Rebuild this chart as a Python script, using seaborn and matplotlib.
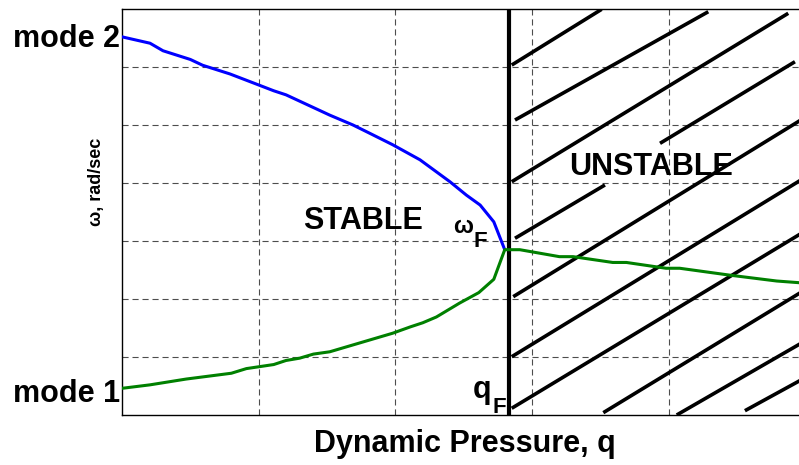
import matplotlib
matplotlib.use("Agg")
import matplotlib.pyplot as plt
import matplotlib.transforms as mtransforms
import seaborn as sns
import pandas as pd

# ---- data ----
q_mode2 = [0.00, 0.205, 0.30, 0.50, 0.59, 0.79, 1.00, 1.11, 1.20, 1.52, 1.69,
           1.81, 1.98, 2.18, 2.40, 2.52, 2.62, 2.72, 2.80]
w_mode2 = [6.52, 6.41, 6.28, 6.13, 6.03, 5.88, 5.69, 5.59, 5.52, 5.17, 5.00,
           4.86, 4.66, 4.40, 4.02, 3.79, 3.62, 3.33, 2.85]

q_mode1 = [0.00, 0.205, 0.47, 0.80, 0.91, 1.11, 1.20, 1.30, 1.40, 1.52, 1.98,
           2.11, 2.20, 2.30, 2.47, 2.61, 2.72, 2.80, 2.91, 3.20, 3.30, 3.59,
           3.69, 3.98, 4.08, 4.45, 4.79, 4.96]
w_mode1 = [0.46, 0.52, 0.62, 0.72, 0.80, 0.87, 0.94, 0.98, 1.05, 1.09, 1.41,
           1.52, 1.59, 1.69, 1.93, 2.11, 2.34, 2.85, 2.85, 2.73, 2.73, 2.63,
           2.63, 2.53, 2.53, 2.41, 2.31, 2.28]

q_flutter = 2.83

# hatch segments of the unstable region: start q, start w, end q, end w
hatch_q0 = [2.851, 2.875, 2.851, 2.875, 3.936, 2.862, 2.851, 2.851, 3.521, 4.058, 4.557]
hatch_w0 = [6.034, 5.086, 4.022, 3.047, 4.684, 2.040, 1.005, 0.116, 0.040, 0.000, 0.074]
hatch_q1 = [3.509, 4.289, 4.874, 3.533, 4.923, 4.960, 4.960, 4.960, 4.960, 4.960, 4.960]
hatch_w1 = [6.995, 6.953, 6.926, 3.966, 6.091, 5.077, 4.042, 3.118, 2.105, 1.226, 0.594]

x_grid = [1, 2, 3, 4]
y_grid = [1, 2, 3, 4, 5, 6]

# ---- figure ----
sns.set_theme(style="white")
plt.rcParams["font.family"] = ["Liberation Sans", "DejaVu Sans"]
plt.rcParams["font.weight"] = "bold"
plt.rcParams["text.color"] = "black"

W, H = 799, 465
fig = plt.figure(figsize=(W / 100, H / 100), dpi=100)
ax_l, ax_b, ax_t = 122, 415, 9
ax = fig.add_axes([ax_l / W, (H - ax_b) / H, 678 / W, (ax_b - ax_t) / H])
ax.set_xlim(0, 4.96)
ax.set_ylim(0, 7)

ax.set_xticks(x_grid)
ax.set_yticks(y_grid)
ax.tick_params(length=0, labelbottom=False, labelleft=False)
ax.grid(True, color="#4d4d4d", linewidth=0.8, linestyle=(0, (5.5, 3.5)))
ax.set_axisbelow(True)
for side in ["left", "bottom", "top"]:
    ax.spines[side].set_color("black")
    ax.spines[side].set_linewidth(1.0)
ax.spines["right"].set_visible(False)

# hatch lines
hatch = pd.DataFrame({"q0": hatch_q0, "w0": hatch_w0, "q1": hatch_q1, "w1": hatch_w1})
for i, r in hatch.iterrows():
    seg = pd.DataFrame({"q": [r.q0, r.q1], "w": [r.w0, r.w1]})
    sns.lineplot(data=seg, x="q", y="w", ax=ax, color="black", linewidth=2.6,
                 estimator=None, sort=False, solid_capstyle="butt", zorder=3)

# flutter boundary
ax.axvline(q_flutter, color="black", linewidth=3.0, zorder=4)

# modes
df2 = pd.DataFrame({"q": q_mode2, "w": w_mode2})
df1 = pd.DataFrame({"q": q_mode1, "w": w_mode1})
sns.lineplot(data=df2, x="q", y="w", ax=ax, color="#0000ff", linewidth=2.2,
             estimator=None, sort=False, zorder=5)
sns.lineplot(data=df1, x="q", y="w", ax=ax, color="#008000", linewidth=2.2,
             estimator=None, sort=False, zorder=5)

ax.set_xlabel("")
ax.set_ylabel("")

# labels
left_blend = mtransforms.blended_transform_factory(ax.transAxes, ax.transData)
off = mtransforms.ScaledTranslation(-2 / 100, 0, fig.dpi_scale_trans)
ax.text(0, 6.35, "mode 2", transform=left_blend + off, ha="right", va="baseline",
        fontsize=22, fontweight="bold", color="black", clip_on=False)
ax.text(0, 0.22, "mode 1", transform=left_blend + off, ha="right", va="baseline",
        fontsize=22, fontweight="bold", color="black", clip_on=False)

ax.text(1.763, 3.21, "STABLE", ha="center", va="baseline", fontsize=22,
        fontweight="bold", color="black", zorder=6)
ax.text(3.874, 4.14, "UNSTABLE", ha="center", va="baseline", fontsize=22,
        fontweight="bold", color="black", zorder=6)

ax.text(2.421, 3.138, "ω", ha="left", va="baseline", fontsize=17,
        fontweight="bold", color="black", zorder=6)
ax.text(2.568, 2.897, "F", ha="left", va="baseline", fontsize=16,
        fontweight="bold", color="black", zorder=6)
ax.text(2.568, 0.293, "q", ha="left", va="baseline", fontsize=22,
        fontweight="bold", color="black", zorder=6)
ax.text(2.714, 0.034, "F", ha="left", va="baseline", fontsize=16,
        fontweight="bold", color="black", zorder=6)

fig.text(97 / W, 1 - 182 / H, "ω, rad/sec", rotation=90, ha="center",
         va="center", fontsize=13, fontweight="bold", color="black")
fig.text(465 / W, 1 - 452 / H, "Dynamic Pressure, q", ha="center",
         va="baseline", fontsize=22, fontweight="bold", color="black")

fig.savefig("out.png", dpi=100)
